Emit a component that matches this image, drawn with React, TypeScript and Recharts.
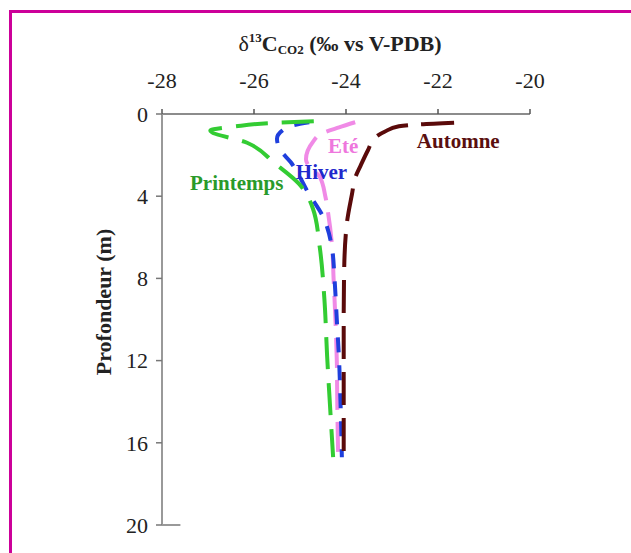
import React from 'react';
import { LineChart, Line, XAxis, YAxis, ReferenceDot, ReferenceLine } from 'recharts';

const SERIF = 'Liberation Serif';

const xTicks = [-28, -26, -24, -22, -20];
const yTicks = [0, 4, 8, 12, 16, 20];

const printempsDepth = [0.35, 0.45, 0.6, 0.8, 1.4, 2.4, 3.4, 4.6, 6.5, 9.0, 11.8, 14.1, 16.7];
const printempsValue = [-24.7, -25.7, -26.4, -26.95, -26.15, -25.55, -25.02, -24.72, -24.57, -24.47, -24.41, -24.35, -24.28];

const hiverDepth = [0.4, 0.55, 0.8, 1.2, 1.75, 2.35, 3.0, 3.8, 5.0, 6.6, 8.0, 10, 12, 14, 16.7];
const hiverValue = [-24.8, -25.15, -25.38, -25.5, -25.43, -25.2, -25.02, -24.83, -24.5, -24.3, -24.25, -24.2, -24.15, -24.12, -24.09];

const eteDepth = [0.4, 0.65, 0.92, 1.36, 2.2, 2.5, 3.07, 4.0, 4.8, 6.5, 8, 10, 12, 14, 16.7];
const eteValue = [-23.8, -24.15, -24.5, -24.72, -24.87, -24.82, -24.57, -24.45, -24.39, -24.3, -24.27, -24.23, -24.2, -24.19, -24.17];

const automneDepth = [0.42, 0.5, 0.6, 0.85, 1.15, 1.75, 2.5, 3.1, 3.9, 5.3, 7.6, 10, 13, 16.7];
const automneValue = [-21.65, -22.4, -22.85, -23.15, -23.37, -23.52, -23.68, -23.8, -23.87, -23.98, -24.04, -24.05, -24.05, -24.05];

const zip = (d: number[], v: number[]) => d.map((depth, i) => ({ depth, value: v[i] }));

const printempsData = zip(printempsDepth, printempsValue);
const hiverData = zip(hiverDepth, hiverValue);
const eteData = zip(eteDepth, eteValue);
const automneData = zip(automneDepth, automneValue);

const labels = [
  { name: 'Printemps', x: -27.39, y: 3.7, color: '#2a9a2a' },
  { name: 'Hiver', x: -25.09, y: 3.15, color: '#2228cc' },
  { name: 'Eté', x: -24.39, y: 1.9, color: '#ee77dd' },
  { name: 'Automne', x: -22.46, y: 1.65, color: '#5a0f0f' },
];

const AnnotLabel = (props: any) => {
  const vb = props.viewBox || {};
  const x = (vb.x || 0) + (vb.width || 0) / 2;
  const y = (vb.y || 0) + (vb.height || 0) / 2;
  return (
    <text x={x} y={y} fill={props.color} fontFamily={SERIF} fontSize={21} fontWeight="bold" textAnchor="start">
      {props.text}
    </text>
  );
};

const TitleLabel = () => (
  <text x={340} y={51} textAnchor="middle" fontFamily={SERIF} fontSize={22} fontWeight="bold" fill="#222">
    <tspan fontWeight="normal">δ</tspan>
    <tspan fontSize={13} dy={-9}>13</tspan>
    <tspan dy={9}>C</tspan>
    <tspan fontSize={13} dy={3}>CO2</tspan>
    <tspan dy={-3}> (‰ vs V-PDB)</tspan>
  </text>
);

const YLabel = () => (
  <text x={111} y={302} transform="rotate(-90 111 302)" textAnchor="middle" fontFamily={SERIF} fontSize={22} fontWeight="bold" fill="#222">
    Profondeur (m)
  </text>
);

export default function App() {
  return (
    <div style={{ position: 'absolute', left: 0, top: 0, width: 631, height: 553, background: '#fff', overflow: 'hidden' }}>
      <div
        style={{
          position: 'absolute',
          left: 9,
          top: 10,
          width: 640,
          height: 560,
          borderLeft: '3px solid #cc0099',
          borderTop: '3px solid #cc0099',
          boxSizing: 'border-box',
        }}
      />
      <div style={{ position: 'absolute', left: 0, top: 0 }}>
        <LineChart
          width={631}
          height={553}
          layout="vertical"
          margin={{ top: 74, right: 101, bottom: 28, left: 102 }}
        >
          <XAxis
            type="number"
            orientation="top"
            domain={[-28, -20]}
            ticks={xTicks}
            height={40}
            axisLine={{ stroke: '#666', strokeWidth: 1.5 }}
            tickLine={{ stroke: '#555', strokeWidth: 1.5 }}
            tickSize={5}
            tickMargin={21}
            tick={{ fontSize: 22, fill: '#222', fontFamily: SERIF }}
            label={<TitleLabel />}
            allowDataOverflow
          />
          <YAxis
            type="number"
            dataKey="depth"
            domain={[0, 20]}
            ticks={yTicks}
            width={60}
            axisLine={{ stroke: '#999', strokeWidth: 2 }}
            tickLine={{ stroke: '#777', strokeWidth: 1.5 }}
            tickSize={6}
            tickMargin={8}
            tick={{ fontSize: 22, fill: '#222', fontFamily: SERIF }}
            label={<YLabel />}
            allowDataOverflow
          />
          <ReferenceLine
            segment={[{ x: -28, y: 20 }, { x: -27.6, y: 20 }]}
            stroke="#777"
            strokeWidth={1.5}
            ifOverflow="visible"
          />
          <Line data={eteData} dataKey="value" type="monotone" stroke="#f08ae6" strokeWidth={4} strokeDasharray="30 12" dot={false} isAnimationActive={false} />
          <Line data={hiverData} dataKey="value" type="monotone" stroke="#1f3fdd" strokeWidth={4} strokeDasharray="15 13" dot={false} isAnimationActive={false} />
          <Line data={printempsData} dataKey="value" type="monotone" stroke="#33cc33" strokeWidth={4} strokeDasharray="32 14" dot={false} isAnimationActive={false} />
          <Line data={automneData} dataKey="value" type="monotone" stroke="#5a0a0a" strokeWidth={4} strokeDasharray="33 13" dot={false} isAnimationActive={false} />
          {labels.map((l) => (
            <ReferenceDot
              key={l.name}
              x={l.x}
              y={l.y}
              r={1}
              fill="none"
              stroke="none"
              ifOverflow="visible"
              label={<AnnotLabel text={l.name} color={l.color} />}
            />
          ))}
        </LineChart>
      </div>
    </div>
  );
}
